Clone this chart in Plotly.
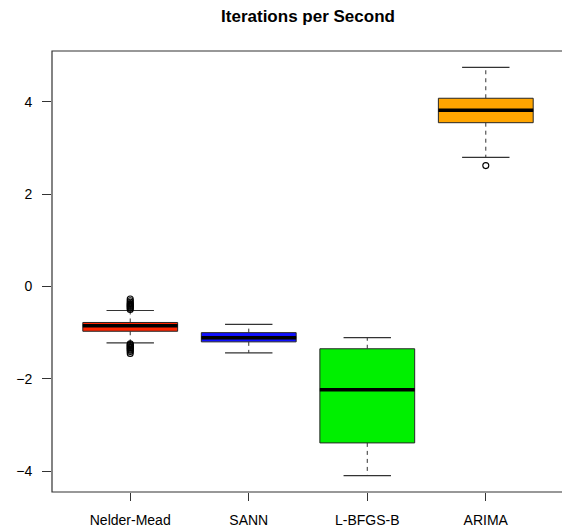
import plotly.graph_objects as go

categories = ["Nelder-Mead", "SANN", "L-BFGS-B", "ARIMA"]
positions = [1, 2, 3, 4]
lower_whisker = [-1.22, -1.44, -4.10, 2.80]
q1 = [-0.97, -1.20, -3.39, 3.55]
median = [-0.85, -1.11, -2.24, 3.82]
q3 = [-0.78, -1.00, -1.35, 4.08]
upper_whisker = [-0.52, -0.82, -1.11, 4.75]
fill_colors = ["#ff2400", "#1010ff", "#00f000", "#ffa500"]

outlier_pos = [1] * 20 + [4]
outlier_values = [-0.27, -0.31, -0.34, -0.37, -0.39, -0.41, -0.43, -0.45, -0.47, -0.50,
                  -1.24, -1.26, -1.28, -1.30, -1.32, -1.34, -1.36, -1.38, -1.41, -1.45,
                  2.62]

BOX_HALF = 0.4
CAP_HALF = 0.2
EDGE = "#262626"

fig = go.Figure()

for p, a, m, b, c in zip(positions, q1, median, q3, fill_colors):
    fig.add_trace(go.Box(
        x=[p], q1=[a], median=[m], q3=[b], lowerfence=[a], upperfence=[b],
        width=2 * BOX_HALF, fillcolor=c, line=dict(color=EDGE, width=1),
        whiskerwidth=0, boxpoints=False, showlegend=False, hoverinfo="skip",
    ))

# whiskers (dashed)
wx, wy = [], []
for p, lw, a, b, uw in zip(positions, lower_whisker, q1, q3, upper_whisker):
    wx += [p, p, None, p, p, None]
    wy += [b, uw, None, a, lw, None]
fig.add_trace(go.Scatter(x=wx, y=wy, mode="lines",
                         line=dict(color="#333333", width=1, dash="4px,4px"),
                         showlegend=False, hoverinfo="skip"))

# caps
cx, cy = [], []
for p, lw, uw in zip(positions, lower_whisker, upper_whisker):
    cx += [p - CAP_HALF, p + CAP_HALF, None, p - CAP_HALF, p + CAP_HALF, None]
    cy += [uw, uw, None, lw, lw, None]
fig.add_trace(go.Scatter(x=cx, y=cy, mode="lines",
                         line=dict(color="#333333", width=1.2),
                         showlegend=False, hoverinfo="skip"))

# medians
mx, my = [], []
for p, m in zip(positions, median):
    mx += [p - BOX_HALF, p + BOX_HALF, None]
    my += [m, m, None]
fig.add_trace(go.Scatter(x=mx, y=my, mode="lines",
                         line=dict(color="black", width=3.5),
                         showlegend=False, hoverinfo="skip"))

# outliers
fig.add_trace(go.Scatter(x=outlier_pos, y=outlier_values, mode="markers",
                         marker=dict(symbol="circle-open", size=6,
                                     color="black", line=dict(width=1.1)),
                         showlegend=False, hoverinfo="skip"))

fig.update_layout(
    width=562, height=527,
    margin=dict(l=52, r=0, t=51, b=35, autoexpand=False),
    paper_bgcolor="white", plot_bgcolor="white",
    font=dict(family="Liberation Sans, Arial, sans-serif", size=14, color="black"),
    title=dict(text="<b>Iterations per Second</b>", x=308 / 562, xanchor="center",
               y=1 - 16 / 527, yanchor="middle", yref="container",
               font=dict(size=17, color="black")),
    xaxis=dict(range=[0.34, 4.643], tickvals=positions, ticktext=categories,
               ticks="outside", ticklen=8, tickcolor="#333333",
               showgrid=False, zeroline=False, showline=False,
               automargin=False, ticklabelstandoff=7),
    yaxis=dict(range=[-4.454, 5.104], tickvals=[-4, -2, 0, 2, 4],
               ticks="outside", ticklen=9, tickcolor="#333333",
               showgrid=False, zeroline=False, showline=False,
               automargin=False, ticklabelstandoff=7),
    shapes=[dict(type="rect", xref="paper", yref="paper", x0=0, x1=1.02, y0=0, y1=1,
                 line=dict(color="#333333", width=1.2), layer="above")],
)

fig.write_html("out.html", config={"displayModeBar": False},
               post_script="document.body.style.margin='0';document.body.style.overflow='hidden';")
